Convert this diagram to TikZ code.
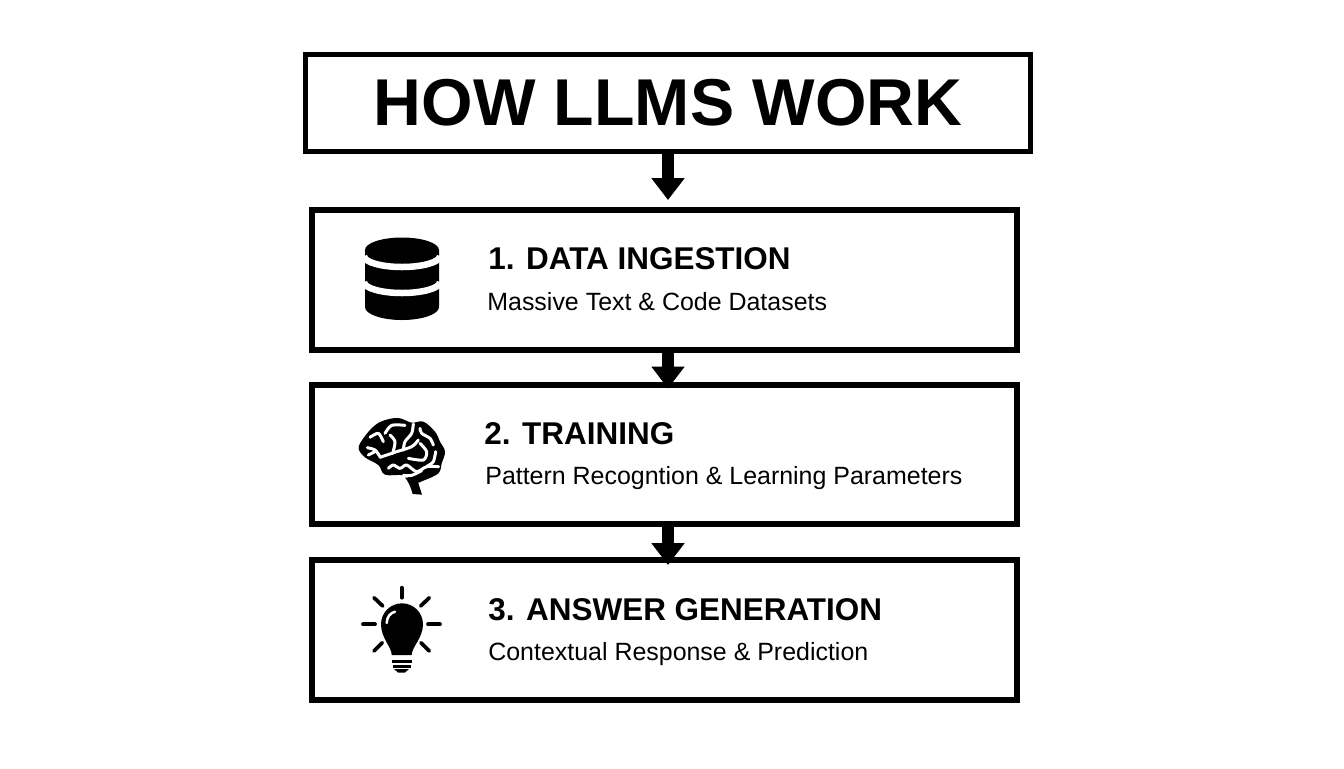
\documentclass[tikz,border=0pt]{standalone}
\usepackage{fontspec}
\setmainfont{Liberation Sans}
\usetikzlibrary{arrows.meta}
\begin{document}
\begin{tikzpicture}[x=0.02cm,y=-0.02cm]
    \tikzstyle{titlebox}=[draw,line width=0.1cm,minimum width=14.5cm,minimum height=1.94cm,font=\bfseries\fontsize{37.7}{44}\selectfont]
    \tikzstyle{stepbox}=[draw,line width=0.12cm,minimum width=14.1cm,minimum height=2.8cm]
    \tikzstyle{head}=[anchor=base west,inner sep=0pt,font=\bfseries\fontsize{17.9}{22}\selectfont]
    \tikzstyle{sub}=[anchor=base west,inner sep=0pt,font=\fontsize{14.2}{17}\selectfont]
    \tikzstyle{flow}=[line width=0.25cm,-{Triangle[length=0.44cm,width=0.64cm]}]
    \tikzstyle{gap}=[white,line width=0.13cm]
    \tikzstyle{fold}=[white,line width=0.06cm,line cap=round,line join=round]
    \tikzstyle{ray}=[line width=0.075cm,line cap=round]
    \useasboundingbox (0,0) rectangle (1344,768);

      \node (title) at (668,103) [titlebox] {HOW LLMS WORK};
      \node (ingest) at (664.5,280) [stepbox] {};
      \node (train) at (664.5,454.5) [stepbox] {};
      \node (answer) at (664.5,630) [stepbox] {};

      \node (ingesthead) at (488,269.5) [head] {1. DATA INGESTION};
      \node (ingestsub) at (487,310) [sub] {Massive Text \& Code Datasets};
      \node (trainhead) at (484,444) [head] {2. TRAINING};
      \node (trainsub) at (485,484) [sub] {Pattern Recogntion \& Learning Parameters};
      \node (answerhead) at (488,620) [head] {3. ANSWER GENERATION};
      \node (answersub) at (488,660) [sub] {Contextual Response \& Prediction};

      \draw[flow,shorten >=0.14cm] (title.south) -- (title.south |- ingest.north);
      \draw[flow,shorten >=-0.14cm] (ingest.south -| title.south) -- (train.north -| title.south);
      \draw[flow,shorten >=-0.16cm] (train.south -| title.south) -- (answer.north -| title.south);

      % database
      \fill (365,250) arc[start angle=180,end angle=360,x radius=37,y radius=12.5]
        -- (439,307) arc[start angle=0,end angle=180,x radius=37,y radius=13] -- cycle;
      \draw[gap] (364,256) arc[start angle=180,end angle=0,x radius=38,y radius=11];
      \draw[gap] (364,282) arc[start angle=180,end angle=0,x radius=38,y radius=11];

      % brain
      \begin{scope}[shift={(340,400)},xscale=1/3,yscale=1/3]
        \fill plot[smooth cycle,tension=0.6] coordinates {(56,145) (70,115) (100,80) (130,62) (175,54) (215,68) (250,65) (285,95) (300,125) (315,155) (305,190) (295,220) (250,242) (225,248) (190,226) (135,224) (115,195) (75,172)};
        \fill (195,232) -- (232,240) -- (246,284) -- (218,282) .. controls (212,260) and (205,245) .. cycle;
        \draw[fold] plot[smooth] coordinates {(90,112) (115,100) (130,125)};
        \draw[fold] plot[smooth] coordinates {(135,100) (155,76) (195,76)};
        \draw[fold] plot[smooth] coordinates {(82,143) (105,150) (120,170)};
        \draw[fold] plot[smooth] coordinates {(85,165) (105,155)};
        \draw[fold] plot[smooth] coordinates {(220,72) (215,100) (195,125) (190,150)};
        \draw[fold] plot[smooth] coordinates {(158,160) (165,125) (150,105)};
        \draw[fold] plot[smooth] coordinates {(120,172) (170,155) (215,140) (235,120)};
        \draw[fold] plot[smooth] coordinates {(240,85) (245,100) (270,115) (280,135)};
        \draw[fold] plot[smooth] coordinates {(240,130) (260,155) (250,180) (205,175)};
        \draw[fold] plot[smooth] coordinates {(145,205) (160,195) (180,205) (200,195) (230,215) (260,200) (296,200)};
        \draw[fold] plot[smooth] coordinates {(287,155) (280,185) (262,198)};
        \draw[fold] plot[smooth] coordinates {(190,226) (215,226) (245,212)};
      \end{scope}

      % bulb
      \fill (391.7,655) .. controls (391.7,647) and (381,638) .. (381,624.3)
        arc[start angle=180,end angle=360,radius=21]
        .. controls (423,638) and (411.7,647) .. (411.7,655) -- cycle;
      \draw[white,line width=0.05cm,line cap=round] (386.7,623) .. controls (387,617) and (390,613) .. (395,611.7);
      \fill (391.7,659.5) rectangle (411.7,663.3);
      \fill (392.5,665) rectangle (410.5,668);
      \fill (394,669) -- (409,669) -- (405,672.5) -- (398,672.5) -- cycle;
      \foreach \ax/\ay/\bx/\by in {401.7/587.7/401.7/597.7,363/624.3/375/624.3,428/624.3/440/624.3,374/597.7/382.7/606,429.3/597.7/420.7/606,374/651/382.3/642.7,429.3/651/421/642.7}
        \draw[ray] (\ax,\ay) -- (\bx,\by);
  \end{tikzpicture}
\end{document}
